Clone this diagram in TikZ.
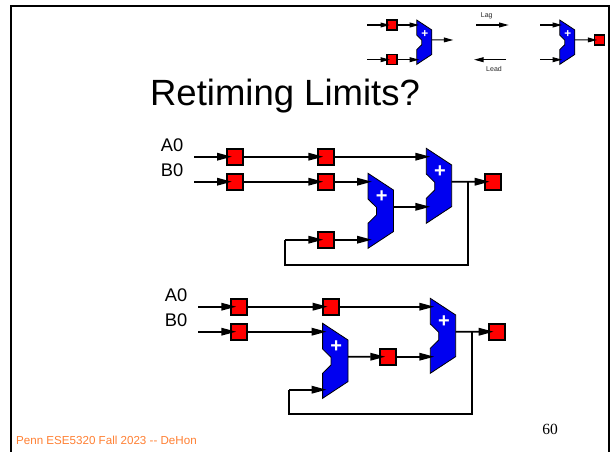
\documentclass[tikz,border=0pt]{standalone}
\usepackage{fontspec}
\setmainfont{Liberation Sans}
\newfontfamily\timesfont{Liberation Serif}
\usetikzlibrary{arrows.meta}
\definecolor{addblue}{RGB}{0,0,240}
\definecolor{regred}{RGB}{255,0,0}
\definecolor{footorange}{RGB}{255,128,51}
\tikzset{
  wire/.style={line width=1.7pt,-{Triangle[length=15pt,width=7.5pt]}},
  plainwire/.style={line width=1.8pt,line join=miter},
  smallwire/.style={line width=1.1pt,-{Triangle[length=9.5pt,width=4.8pt]}},
  regbox/.style={draw=black,fill=regred,line width=1.7pt,minimum size=16pt,inner sep=0pt,outer sep=0pt},
  smallreg/.style={draw=black,fill=regred,line width=1.1pt,minimum size=10pt,inner sep=0pt,outer sep=0pt},
  adderbody/.style={draw=black,fill=addblue,line width=0.8pt,line join=miter},
  sig/.style={font=\fontsize{18.3pt}{20pt}\selectfont,text=black,inner sep=0pt},
  tiny/.style={font=\fontsize{7pt}{7pt}\selectfont,text=black!85,inner sep=0pt},
}
% name, cx, cy, scale
\newcommand{\adderbox}[4]{%
  \pgfmathsetmacro{\addw}{25.4*#4}%
  \pgfmathsetmacro{\addh}{75*#4}%
  \pgfmathsetmacro{\addf}{20*#4}%
  \node[minimum width=\addw pt,minimum height=\addh pt,inner sep=0pt,outer sep=0pt] (#1) at (#2,#3) {};
  \begin{scope}[shift={(#2,#3)},scale=#4]
    \draw[adderbody] (-12.7,-37.5) -- (12.7,-20.8) -- (12.7,20.8) -- (-12.7,37.5) -- (-12.7,12.5)
      -- (-4.3,4.2) -- (-4.3,-3.5) -- (-12.7,-11.8) -- cycle;
    \coordinate (#1-o) at (12.7,-4);
    \node[inner sep=0pt,text=white,font=\fontsize{\addf pt}{\addf pt}\bfseries\selectfont] (#1-p) at (1,-14) {+};
  \end{scope}
}
\begin{document}
\begin{tikzpicture}[x=1pt,y=-1pt]
\useasboundingbox (0,0) rectangle (610,452);
\fill[white] (0,0) rectangle (610,452);
% slide frame
\draw[line width=2.2pt,black] (11.3,452) -- (11.3,5.8) -- (609.2,5.8) -- (609.2,452);
% title, footer, page
\node[anchor=base,inner sep=0pt,font=\fontsize{36.5pt}{40pt}\selectfont] (title) at (285,105) {Retiming Limits?};
\node[anchor=base west,inner sep=0pt,font=\fontsize{11.6pt}{13pt}\selectfont,text=footorange] (foot) at (16,444.8) {Penn ESE5320 Fall 2023 {-}{-} DeHon};
\node[inner sep=0pt,font=\fontsize{15.5pt}{17pt}\timesfont\selectfont] (page) at (550,429.5) {60};

% top legend
\node[smallreg] (tr1) at (392,25) {};
\node[smallreg] (tr2) at (392,59.7) {};
\adderbox{ta1}{424.3}{42.2}{0.59}
\adderbox{ta2}{567.3}{42.2}{0.59}
\node[smallreg] (tr3) at (599.3,40) {};
\coordinate (ti1) at (367.3,25);
\coordinate (ti2) at (367.3,59.7);
\coordinate (to1) at (453.3,40);
\coordinate (ti3) at (540,25);
\coordinate (ti4) at (540,59.7);
\coordinate (lagS) at (476,25);
\coordinate (lagE) at (508.7,25);
\coordinate (leadS) at (506,59.7);
\coordinate (leadE) at (474,59.7);
\node[tiny] (lag) at (486.7,15.7) {Lag};
\node[tiny] (lead) at (494,69.3) {Lead};
\draw[smallwire] (ti1) -- ([xshift=3pt]tr1.west);
\draw[smallwire] (ti2) -- ([xshift=3pt]tr2.west);
\draw[smallwire] (tr1.east) -- ([xshift=2.4pt]ta1.west |- tr1.east);
\draw[smallwire] (tr2.east) -- ([xshift=2.4pt]ta1.west |- tr2.east);
\draw[smallwire] (ta1-o) -- (to1);
\draw[smallwire] (lagS) -- (lagE);
\draw[smallwire] (leadS) -- (leadE);
\draw[smallwire] (ti3) -- ([xshift=2.4pt]ta2.west |- ti3);
\draw[smallwire] (ti4) -- ([xshift=2.4pt]ta2.west |- ti4);
\draw[smallwire] (ta2-o) -- ([xshift=3pt]tr3.west);

% first circuit
\node[sig] (a0) at (172,145) {A0};
\node[sig] (b0) at (172,170) {B0};
\coordinate (ia) at (194,156.7);
\coordinate (ib) at (194,181.7);
\node[regbox] (r1) at (235,156.7) {};
\node[regbox] (r2) at (326.3,156.7) {};
\node[regbox] (r3) at (235,181.7) {};
\node[regbox] (r4) at (326.3,181.7) {};
\node[regbox] (r5) at (326.3,239.7) {};
\node[regbox] (r6) at (492.7,181.7) {};
\adderbox{a1}{439}{185.8}{1}
\adderbox{a2}{380.7}{210.8}{1}
\coordinate (j1) at (468.3,181.7);
\coordinate (c1) at (468.3,264.7);
\coordinate (c2) at (285,264.7);
\coordinate (c3) at (285,239.7);
\draw[wire] (ia) -- ([xshift=5pt]r1.west);
\draw[wire] (ib) -- ([xshift=5pt]r3.west);
\draw[wire] (r1.east) -- ([xshift=5pt]r2.west);
\draw[wire] (r3.east) -- ([xshift=5pt]r4.west);
\draw[wire] (r2.east) -- ([xshift=4pt]a1.west |- r2.east);
\draw[wire] (r4.east) -- ([xshift=4pt]a2.west |- r4.east);
\draw[wire] (r5.east) -- ([xshift=4pt]a2.west |- r5.east);
\draw[wire] (a2-o) -- ([xshift=4pt]a1.west |- a2-o);
\draw[wire] (a1-o) -- ([xshift=5pt]r6.west);
\draw[plainwire] (j1) -- (c1) -- (c2) -- (c3);
\draw[wire] (c3) -- ([xshift=5pt]r5.west);

% second circuit
\node[sig] (a0b) at (176,295) {A0};
\node[sig] (b0b) at (176,320) {B0};
\coordinate (iab) at (198.3,306.7);
\coordinate (ibb) at (198.3,331.7);
\node[regbox] (s1) at (239.3,306.7) {};
\node[regbox] (s2) at (330.7,306.7) {};
\node[regbox] (s3) at (239.3,331.7) {};
\node[regbox] (s4) at (388.3,356.7) {};
\node[regbox] (s5) at (496.7,331.7) {};
\adderbox{b1}{443}{335.8}{1}
\adderbox{b2}{335.3}{360.8}{1}
\coordinate (j2) at (472,331.7);
\coordinate (d1) at (472,414.3);
\coordinate (d2) at (289,414.3);
\coordinate (d3) at (289,389.7);
\draw[wire] (iab) -- ([xshift=5pt]s1.west);
\draw[wire] (ibb) -- ([xshift=5pt]s3.west);
\draw[wire] (s1.east) -- ([xshift=5pt]s2.west);
\draw[wire] (s2.east) -- ([xshift=4pt]b1.west |- s2.east);
\draw[wire] (s3.east) -- ([xshift=4pt]b2.west |- s3.east);
\draw[wire] (b2-o) -- ([xshift=5pt]s4.west);
\draw[wire] (s4.east) -- ([xshift=4pt]b1.west |- s4.east);
\draw[wire] (b1-o) -- ([xshift=5pt]s5.west);
\draw[plainwire] (j2) -- (d1) -- (d2) -- (d3);
\draw[wire] (d3) -- ([xshift=4pt]b2.west |- d3);
\end{tikzpicture}
\end{document}
